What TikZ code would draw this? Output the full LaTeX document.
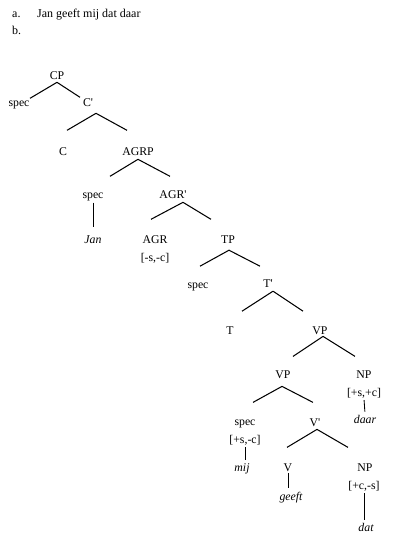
\documentclass[tikz,border=0pt]{standalone}
\usepackage{fontspec}
\setmainfont{Liberation Serif}
\newcommand{\pr}{\textquotesingle}
\begin{document}
\begin{tikzpicture}[x=1pt,y=-1pt,
  lab/.style={anchor=base,inner sep=1pt,font=\fontsize{11.8}{13}\selectfont},
  word/.style={lab,font=\fontsize{11.8}{13}\selectfont\itshape},
  head/.style={anchor=base west,inner sep=0pt,font=\fontsize{12}{14}\selectfont},
  br/.style={line width=1.05pt},
  vl/.style={line width=0.85pt}]
\useasboundingbox (0,0) rectangle (400,543);
% heading
\node[head] (la) at (12,18) {a.};
\node[head] (sent) at (37,18) {Jan geeft mij dat daar};
\node[head] (lb) at (12,35) {b.};
% tree labels
\node[lab] (CP) at (57,79) {CP};
\node[lab] (spec1) at (19,106) {spec};
\node[lab] (Cbar) at (88,106) {C\pr};
\node[lab] (C) at (63,155) {C};
\node[lab] (AGRP) at (138,155) {AGRP};
\node[lab] (spec2) at (93,198) {spec};
\node[word] (Jan) at (93,243) {Jan};
\node[lab] (AGRbar) at (173,198) {AGR\pr};
\node[lab] (AGR) at (155,243) {AGR};
\node[lab] (AGRf) at (155,261) {[-s,-c]};
\node[lab] (TP) at (228,243) {TP};
\node[lab] (spec3) at (198,288) {spec};
\node[lab] (Tbar) at (268,287) {T\pr};
\node[lab] (T) at (230,334) {T};
\node[lab] (VP1) at (320,334) {VP};
\node[lab] (VP2) at (283,378) {VP};
\node[lab] (NP1) at (364,378) {NP};
\node[lab] (NP1f) at (364,396) {[+s,+c]};
\node[word] (daar) at (365,423) {daar};
\node[lab] (spec4) at (245,425) {spec};
\node[lab] (spec4f) at (245,443) {[+s,-c]};
\node[word] (mij) at (242,471) {mij};
\node[lab] (Vbar) at (315,426) {V\pr};
\node[lab] (V) at (288,471) {V};
\node[word] (geeft) at (291,500) {geeft};
\node[lab] (NP2) at (365,471) {NP};
\node[lab] (NP2f) at (364,489) {[+c,-s]};
\node[word] (dat) at (366,531) {dat};
% branches
\draw[br] (CP.south) ++(0,2) coordinate (CPa) -- ++(-27,16) coordinate (CPl)
          (CPa) -- ++(23,15) coordinate (CPr);
\draw[br] (Cbar.south) ++(8,6) coordinate (Cbara) -- ++(-29,17) coordinate (Cbarl)
          (Cbara) -- ++(31,17) coordinate (Cbarr);
\draw[br] (AGRP.south) ++(0,3) coordinate (AGRPa) -- ++(-28,17) coordinate (AGRPl)
          (AGRPa) -- ++(32,17) coordinate (AGRPr);
\draw[br] (AGRbar.south) ++(10,3) coordinate (AGRbara) -- ++(-32,17) coordinate (AGRbarl)
          (AGRbara) -- ++(28,17) coordinate (AGRbarr);
\draw[br] (TP.south) ++(1,6) coordinate (TPa) -- ++(-29,16) coordinate (TPl)
          (TPa) -- ++(31,16) coordinate (TPr);
\draw[br] (Tbar.south) ++(5,3) coordinate (Tbara) -- ++(-31,20) coordinate (Tbarl)
          (Tbara) -- ++(30,20) coordinate (Tbarr);
\draw[br] (VP1.south) ++(3,1) coordinate (VP1a) -- ++(-30,20) coordinate (VP1l)
          (VP1a) -- ++(32,20) coordinate (VP1r);
\draw[br] (VP2.south) ++(-1,7) coordinate (VP2a) -- ++(-29,16) coordinate (VP2l)
          (VP2a) -- ++(31,16) coordinate (VP2r);
\draw[br] (Vbar.south) ++(2,2) coordinate (Vbara) -- ++(-30,18) coordinate (Vbarl)
          (Vbara) -- ++(31,18) coordinate (Vbarr);
% unary lines
\draw[vl,shorten <=1pt,shorten >=7pt] (spec2.south) -- (Jan.north);
\draw[vl,shorten <=1pt,shorten >=2pt] (NP1f.south) -- (daar.north);
\draw[vl,shorten <=1pt,shorten >=2pt] (spec4f.south) -- (spec4f.south |- mij.north);
\draw[vl,shorten <=1pt,shorten >=2pt] (V.south) -- (V.south |- geeft.north);
\draw[vl,shorten <=1pt,shorten >=2pt] (NP2f.south) -- (NP2f.south |- dat.north);
\end{tikzpicture}
\end{document}
